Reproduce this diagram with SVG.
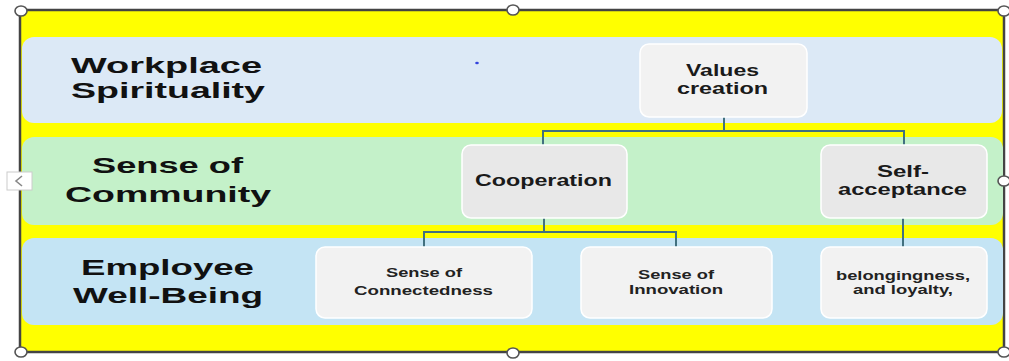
<svg xmlns="http://www.w3.org/2000/svg" width="1009" height="361" viewBox="0 0 1009 361">
  <style>
    .lbl { font-family: "Liberation Sans", Arial, sans-serif; font-weight: bold; font-size: 22px; fill: #111; }
    .n1 { font-family: "Liberation Sans", Arial, sans-serif; font-weight: bold; font-size: 16px; fill: #1a1a1a; }
    .n2 { font-family: "Liberation Sans", Arial, sans-serif; font-weight: bold; font-size: 13px; fill: #222; }
    .n3 { font-family: "Liberation Sans", Arial, sans-serif; font-weight: bold; font-size: 12px; fill: #222; }
    .box1 { fill: #f2f2f2; stroke: #ffffff; stroke-width: 1.5; }
    .box2 { fill: #e8e8e8; stroke: #ffffff; stroke-width: 1.5; }
    .conn { fill: none; stroke: #41707f; stroke-width: 2; }
    .handle { fill: #ffffff; stroke: #555; stroke-width: 1.6; }
  </style>
  <rect x="0" y="0" width="1009" height="361" fill="#ffffff"/>
  <!-- frame -->
  <rect x="20" y="10" width="984" height="342" fill="#ffff00" stroke="#444" stroke-width="2.5"/>
  <!-- bands -->
  <g id="band-workplace">
    <rect x="22" y="37" width="980" height="86" rx="12" fill="#dce9f6"/>
    <text class="lbl" x="71" y="73" textLength="191" lengthAdjust="spacingAndGlyphs">Workplace</text>
    <text class="lbl" x="71" y="98" textLength="194" lengthAdjust="spacingAndGlyphs">Spirituality</text>
  </g>
  <g id="band-community">
    <rect x="22" y="137" width="981" height="88" rx="12" fill="#c4f1c9"/>
    <text class="lbl" x="92" y="173" textLength="151" lengthAdjust="spacingAndGlyphs">Sense of</text>
    <text class="lbl" x="65" y="202" textLength="206" lengthAdjust="spacingAndGlyphs">Community</text>
  </g>
  <g id="band-wellbeing">
    <rect x="22" y="238" width="981" height="87" rx="12" fill="#c4e4f4"/>
    <text class="lbl" x="81" y="275" textLength="173" lengthAdjust="spacingAndGlyphs">Employee</text>
    <text class="lbl" x="73" y="303" textLength="190" lengthAdjust="spacingAndGlyphs">Well-Being</text>
  </g>
  <ellipse cx="477" cy="63" rx="1.8" ry="1.2" fill="#3344dd"/>
  <!-- connectors -->
  <g id="connectors">
    <path class="conn" d="M724,117 V131 M543,131 H904 M543,130 V146 M904,130 V146"/>
    <path class="conn" d="M544,218 V232 M424,232 H676 M424,231 V247 M676,231 V247"/>
    <path class="conn" d="M903,218 V247"/>
  </g>
  <!-- nodes -->
  <g id="node-values">
    <rect class="box1" x="640" y="44" width="167" height="73" rx="9"/>
    <text class="n1" x="686" y="76" textLength="73" lengthAdjust="spacingAndGlyphs">Values</text>
    <text class="n1" x="677" y="94" textLength="91" lengthAdjust="spacingAndGlyphs">creation</text>
  </g>
  <g id="node-cooperation">
    <rect class="box2" x="462" y="145" width="165" height="73" rx="9"/>
    <text class="n1" x="475" y="186" textLength="137" lengthAdjust="spacingAndGlyphs">Cooperation</text>
  </g>
  <g id="node-selfacceptance">
    <rect class="box2" x="821" y="145" width="166" height="73" rx="9"/>
    <text class="n1" x="877" y="177" textLength="52" lengthAdjust="spacingAndGlyphs">Self-</text>
    <text class="n1" x="838" y="195" textLength="129" lengthAdjust="spacingAndGlyphs">acceptance</text>
  </g>
  <g id="node-connectedness">
    <rect class="box1" x="316" y="247" width="216" height="71" rx="9"/>
    <text class="n2" x="386" y="277" textLength="76" lengthAdjust="spacingAndGlyphs">Sense of</text>
    <text class="n2" x="354" y="295" textLength="139" lengthAdjust="spacingAndGlyphs">Connectedness</text>
  </g>
  <g id="node-innovation">
    <rect class="box1" x="581" y="247" width="191" height="71" rx="9"/>
    <text class="n2" x="638" y="279" textLength="76" lengthAdjust="spacingAndGlyphs">Sense of</text>
    <text class="n2" x="629" y="294" textLength="94" lengthAdjust="spacingAndGlyphs">Innovation</text>
  </g>
  <g id="node-belongingness">
    <rect class="box1" x="821" y="247" width="166" height="71" rx="9"/>
    <text class="n3" x="836" y="280" textLength="134" lengthAdjust="spacingAndGlyphs">belongingness,</text>
    <text class="n3" x="853" y="294" textLength="100" lengthAdjust="spacingAndGlyphs">and loyalty,</text>
  </g>
  <!-- selection handles -->
  <g id="handles">
    <ellipse class="handle" cx="21" cy="11" rx="6" ry="5"/>
    <ellipse class="handle" cx="513" cy="10" rx="6" ry="5"/>
    <ellipse class="handle" cx="1004" cy="11" rx="6" ry="5"/>
    <ellipse class="handle" cx="1004" cy="181" rx="6" ry="5"/>
    <ellipse class="handle" cx="21" cy="352" rx="6" ry="5"/>
    <ellipse class="handle" cx="513" cy="353" rx="6" ry="5"/>
    <ellipse class="handle" cx="1004" cy="352" rx="6" ry="5"/>
  </g>
  <g id="collapse-button">
    <rect x="7" y="172" width="25" height="18" fill="#ffffff" stroke="#cccccc" stroke-width="1"/>
    <polyline points="22,176 16,181 22,186" fill="none" stroke="#888" stroke-width="1.6"/>
  </g>
</svg>
